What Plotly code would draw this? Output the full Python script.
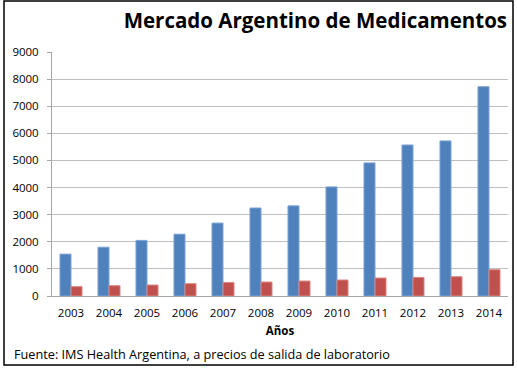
import plotly.graph_objects as go

years = ["2003", "2004", "2005", "2006", "2007", "2008", "2009", "2010", "2011", "2012", "2013", "2014"]
serie_azul = [1545, 1800, 2050, 2280, 2690, 3245, 3325, 4025, 4910, 5570, 5720, 7720]
serie_roja = [345, 380, 405, 455, 500, 515, 552, 590, 663, 687, 712, 970]
y_ticks = [0, 1000, 2000, 3000, 4000, 5000, 6000, 7000, 8000, 9000]

FONT = "Open Sans, Liberation Sans, sans-serif"

fig = go.Figure()
fig.add_trace(go.Bar(x=years, y=serie_azul, marker=dict(color="#4F81BD", line=dict(color="#7DA3D6", width=1)), showlegend=False))
fig.add_trace(go.Bar(x=years, y=serie_roja, marker=dict(color="#C0504D", line=dict(color="#D98886", width=1)), showlegend=False))

fig.update_layout(
    width=517, height=372,
    margin=dict(l=52, r=9, t=52, b=76),
    paper_bgcolor="white", plot_bgcolor="white",
    barmode="group", bargap=0.42, bargroupgap=0,
    font=dict(family=FONT, size=11, color="#000000"),
    title=dict(text="<b>Mercado Argentino de Medicamentos</b>", x=0.61, xanchor="center", y=0.945, yanchor="middle",
               font=dict(family=FONT, size=20.5, color="#000000")),
    xaxis=dict(showgrid=False, showline=True, linecolor="#A6A6A6", linewidth=1, ticks="",
               tickfont=dict(size=11.5), ticklabelstandoff=6,
               title=dict(text="<b>Años</b>", font=dict(size=11.5), standoff=8)),
    yaxis=dict(range=[0, 9000], tickvals=y_ticks, showgrid=True, gridcolor="#BFBFBF", gridwidth=1,
               showline=True, linecolor="#A6A6A6", ticks="outside", ticklen=4, tickcolor="#A6A6A6",
               tickfont=dict(size=11.5), zeroline=False, ticklabelstandoff=6),
    shapes=[dict(type="rect", xref="paper", yref="paper", layer="above",
                 x0=-48/456, x1=1 + 5/456, y0=-69/244, y1=1 + 51/244,
                 line=dict(color="#000000", width=1.5))],
    annotations=[dict(text="Fuente: IMS Health Argentina, a precios de salida de laboratorio", xref="paper", yref="paper",
                      x=-40/456, y=-58/244, xanchor="left", yanchor="middle", showarrow=False,
                      font=dict(family=FONT, size=12.7, color="#000000"))],
)

fig.write_html("out.html", config={"displayModeBar": False}, post_script="document.body.style.margin='0';")
